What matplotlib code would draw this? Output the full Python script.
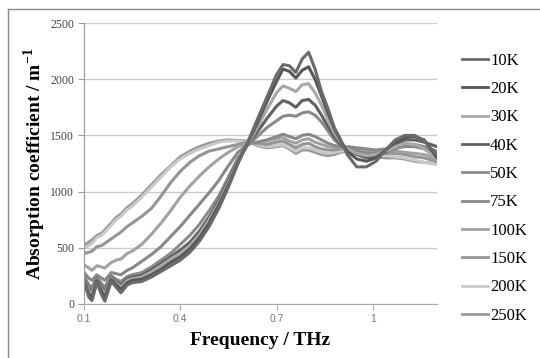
import matplotlib
matplotlib.use("Agg")
import matplotlib.pyplot as plt
from matplotlib.lines import Line2D

plt.rcParams["mathtext.fontset"] = "custom"
plt.rcParams["mathtext.rm"] = "Liberation Serif"
plt.rcParams["mathtext.bf"] = "Liberation Serif:bold"

# frequency grid (THz)
freq = [0.10, 0.115, 0.125, 0.14, 0.155, 0.165, 0.185, 0.20, 0.215, 0.235, 0.25,
        0.28, 0.31, 0.34, 0.37, 0.40, 0.43, 0.46, 0.49, 0.52, 0.55, 0.58,
        0.61, 0.64, 0.67, 0.70, 0.72, 0.74, 0.76, 0.78, 0.80, 0.82, 0.84, 0.86, 0.88, 0.90,
        0.92, 0.95, 0.98, 1.01, 1.04, 1.07, 1.10, 1.13, 1.16, 1.20]

labels = ["10K", "20K", "30K", "40K", "50K", "75K", "100K", "150K", "200K", "250K"]

a10 = [200, 60, 30, 190, 80, 25, 200, 150, 100, 170, 190,
       200, 240, 290, 340, 390, 460, 560, 690, 850, 1040, 1250,
       1440, 1640, 1840, 2040, 2130, 2120, 2060, 2180, 2240, 2090, 1890, 1740, 1570, 1460,
       1330, 1220, 1220, 1270, 1370, 1460, 1500, 1500, 1450, 1330]
a20 = [210, 90, 60, 210, 110, 60, 220, 170, 130, 190, 210,
       220, 260, 310, 370, 420, 490, 590, 720, 880, 1060, 1260,
       1430, 1610, 1800, 1980, 2090, 2070, 2010, 2080, 2110, 2000, 1850, 1700, 1560, 1450,
       1360, 1290, 1270, 1300, 1370, 1440, 1480, 1490, 1460, 1300]
a30 = [220, 120, 90, 220, 130, 90, 230, 185, 150, 210, 225,
       240, 285, 340, 400, 450, 520, 620, 750, 900, 1080, 1270,
       1420, 1570, 1730, 1880, 1940, 1920, 1890, 1950, 1960, 1880, 1770, 1640, 1520, 1440,
       1380, 1340, 1320, 1330, 1360, 1400, 1430, 1420, 1380, 1290]
a40 = [230, 140, 110, 230, 150, 110, 240, 200, 170, 225, 240,
       255, 305, 360, 420, 480, 550, 650, 775, 920, 1100, 1280,
       1420, 1530, 1650, 1760, 1810, 1790, 1750, 1810, 1820, 1770, 1680, 1580, 1490, 1420,
       1380, 1330, 1300, 1310, 1350, 1420, 1460, 1460, 1440, 1400]
a50 = [250, 170, 150, 240, 180, 150, 250, 220, 200, 245, 260,
       280, 330, 390, 450, 530, 610, 710, 830, 960, 1130, 1300,
       1410, 1490, 1570, 1630, 1670, 1680, 1670, 1700, 1710, 1680, 1620, 1540, 1460, 1410,
       1390, 1360, 1340, 1340, 1350, 1380, 1410, 1420, 1400, 1360]
a75 = [280, 230, 210, 260, 230, 210, 280, 270, 260, 300, 320,
       380, 440, 510, 600, 690, 790, 890, 990, 1100, 1230, 1350,
       1420, 1440, 1460, 1490, 1510, 1490, 1470, 1500, 1510, 1490, 1460, 1430, 1410, 1400,
       1400, 1390, 1380, 1370, 1380, 1390, 1400, 1400, 1380, 1350]
a100 = [350, 320, 300, 340, 330, 320, 370, 390, 400, 450, 470,
        530, 620, 720, 830, 950, 1050, 1140, 1220, 1290, 1350, 1400,
        1430, 1440, 1450, 1470, 1480, 1450, 1430, 1460, 1470, 1440, 1420, 1400, 1390, 1390,
        1390, 1380, 1370, 1360, 1360, 1360, 1350, 1340, 1330, 1290]
a150 = [450, 460, 470, 510, 520, 540, 580, 610, 640, 690, 720,
        780, 850, 960, 1080, 1180, 1260, 1320, 1360, 1380, 1400, 1420,
        1440, 1430, 1420, 1440, 1450, 1420, 1390, 1420, 1430, 1400, 1380, 1370, 1370, 1380,
        1390, 1370, 1360, 1350, 1340, 1340, 1330, 1310, 1300, 1270]
a200 = [500, 520, 540, 590, 610, 640, 700, 750, 780, 840, 870,
        950, 1040, 1130, 1220, 1290, 1340, 1380, 1410, 1440, 1450, 1450,
        1440, 1420, 1400, 1410, 1420, 1390, 1360, 1390, 1390, 1370, 1350, 1340, 1350, 1360,
        1370, 1350, 1330, 1320, 1320, 1310, 1300, 1280, 1260, 1240]
a250 = [520, 550, 570, 610, 630, 660, 720, 770, 800, 860, 890,
        970, 1060, 1150, 1230, 1310, 1360, 1400, 1430, 1450, 1460, 1455,
        1450, 1410, 1390, 1400, 1410, 1380, 1340, 1370, 1370, 1350, 1330, 1320, 1330, 1350,
        1360, 1340, 1330, 1310, 1300, 1300, 1290, 1270, 1260, 1250]

series = [a10, a20, a30, a40, a50, a75, a100, a150, a200, a250]
colors = ["#6a6a6a", "#575757", "#a8a8a8", "#616161", "#8a8a8a",
          "#888888", "#a2a2a2", "#959595", "#cacaca", "#9a9a9a"]

fig = plt.figure(figsize=(5.4, 3.58), dpi=100)
ax = fig.add_axes([84 / 540, 1 - 304 / 358, (437 - 84) / 540, (304 - 23) / 358])

# draw from warm to cold so that the dark peaks sit on top
for i in reversed(range(len(series))):
    ax.plot(freq, series[i], color=colors[i], lw=2.2, label=labels[i],
            solid_joinstyle="round", solid_capstyle="round")

ax.set_xlim(0.1, 1.2)
ax.set_ylim(0, 2500)
ax.set_yticks([0, 500, 1000, 1500, 2000, 2500])
ax.set_xticks([0.1, 0.4, 0.7, 1.0])
ax.set_xticklabels(["0.1", "0.4", "0.7", "1"])
ax.yaxis.grid(True, color="#cccccc", lw=1)
ax.set_axisbelow(True)

for s in ["top", "right"]:
    ax.spines[s].set_visible(False)
ax.spines["left"].set_color("#999999")
ax.spines["bottom"].set_color("#aaaaaa")
ax.tick_params(axis="y", length=4, color="#999999", labelsize=8.5, labelcolor="#444444", pad=3)
ax.tick_params(axis="x", length=4, color="#aaaaaa", labelsize=7.5, labelcolor="#777777", pad=3)
for t in ax.get_yticklabels():
    t.set_fontfamily("Liberation Serif")
for t in ax.get_xticklabels():
    t.set_fontfamily("Liberation Sans")

ax.set_xlabel("Frequency / THz", fontsize=14, fontweight="bold",
              fontfamily="Liberation Serif", labelpad=6)
ax.set_ylabel("Absorption coefficient / m$^{\\mathbf{-1}}$", fontsize=14, fontweight="bold",
              fontfamily="Liberation Serif", labelpad=2)

handles = [Line2D([], [], color=c, lw=2) for c in colors]
fig.legend(handles, labels, loc="upper left", bbox_to_anchor=(455 / 540, 1 - 46 / 358),
           frameon=False, prop={"family": "Liberation Serif", "size": 12},
           handlelength=1.6, handletextpad=0.1, labelspacing=0.74, borderaxespad=0)

# outer chart border
fig.add_artist(Line2D([8 / 540, 8 / 540], [0, 1 - 9 / 358], color="#888888", lw=1))
fig.add_artist(Line2D([8 / 540, 1], [1 - 9 / 358, 1 - 9 / 358], color="#888888", lw=1))

fig.savefig("out.png", dpi=100)
